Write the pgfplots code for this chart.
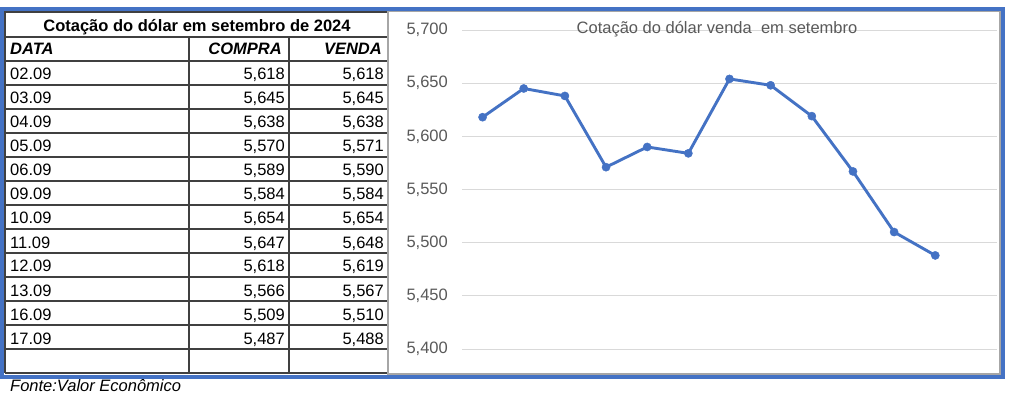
\documentclass[border=0pt]{standalone}
\usepackage{pgfplots}
\pgfplotsset{compat=1.18}
\usepackage{pgfplotstable}
\usepackage{fontspec}
\setmainfont{Liberation Sans}
\definecolor{xblue}{HTML}{4472C4}
\definecolor{xgray}{HTML}{595959}
\definecolor{xgrid}{HTML}{D9D9D9}
\definecolor{xborder}{HTML}{A6A6A6}
\definecolor{tline}{HTML}{404040}

\pgfplotstableread{
data compra venda
02.09 5.618 5.618
03.09 5.645 5.645
04.09 5.638 5.638
05.09 5.570 5.571
06.09 5.589 5.590
09.09 5.584 5.584
10.09 5.654 5.654
11.09 5.647 5.648
12.09 5.618 5.619
13.09 5.566 5.567
16.09 5.509 5.510
17.09 5.487 5.488
}\dolar

\newcommand{\fmt}[1]{\pgfmathprintnumber[fixed,fixed zerofill,precision=3,use comma,assume math mode=true]{#1}}

\begin{document}
\begin{tikzpicture}[font=\fontsize{16.5}{19.8}\selectfont]
\useasboundingbox (0,0) rectangle (1013pt,397pt);
\begin{scope}[x=1pt,y=-1pt,shift={(0pt,397pt)},every node/.style={inner sep=0pt}]
  % chart area
  \fill[white] (388,11) rectangle (1000,374);
  \draw[xborder, line width=2pt] (388,11) rectangle (1000,374);
  % table grid
  \foreach \y in {37,61,...,349} \draw[tline,line width=1.4pt] (5,\y) -- (387,\y);
  \draw[tline, line width=1.4pt] (5,373) -- (387,373);
  \draw[tline, line width=2pt] (5,12) -- (387,12);
  \draw[tline, line width=2pt] (5,11) -- (5,373);
  \foreach \x in {189,289} \draw[tline,line width=1.4pt] (\x,37) -- (\x,373);
  % table texts
  \node[anchor=base, font=\fontsize{16.5}{19.8}\selectfont\bfseries] at (197,31.5) {Cotação do dólar em setembro de 2024};
  \node[anchor=base west, font=\fontsize{16.5}{19.8}\selectfont\bfseries\itshape] at (10,55) {DATA};
  \node[anchor=base east, font=\fontsize{16.5}{19.8}\selectfont\bfseries\itshape] at (282,55) {COMPRA};
  \node[anchor=base east, font=\fontsize{16.5}{19.8}\selectfont\bfseries\itshape] at (382,55) {VENDA};
  \foreach \i in {0,...,11} {
    \pgfplotstablegetelem{\i}{data}\of\dolar \let\vd\pgfplotsretval
    \pgfplotstablegetelem{\i}{compra}\of\dolar \let\vc\pgfplotsretval
    \pgfplotstablegetelem{\i}{venda}\of\dolar \let\vv\pgfplotsretval
    \pgfmathsetmacro{\yb}{80+24*\i}
    \node[anchor=base west] at (10,\yb) {\vd};
    \node[anchor=base east] at (285,\yb) {\fmt{\vc}};
    \node[anchor=base east] at (384,\yb) {\fmt{\vv}};
  }
\end{scope}

\begin{axis}[
  at={(462pt,48pt)}, anchor=south west,
  scale only axis, width=535pt, height=319pt,
  xmin=-0.5, xmax=12.5, ymin=5.4, ymax=5.7,
  ytick={5.4,5.45,5.5,5.55,5.6,5.65,5.7},
  xtick=\empty,
  ymajorgrids, grid style={xgrid, line width=1pt},
  axis line style={draw=none},
  major tick length=0pt,
  scaled y ticks=false,
  yticklabel style={font=\fontsize{16.5}{19.8}\selectfont, text=xgray, anchor=east, inner sep=0pt, xshift=-14pt,
    /pgf/number format/.cd, fixed, fixed zerofill, precision=3, use comma, assume math mode=true},
  clip=false,
]
\addplot[color=xblue, line width=2.9pt, line join=round, mark=*, mark size=4.1pt,
  mark options={solid, fill=xblue, draw=xblue, line width=0.4pt}]
  table[x expr=\coordindex, y=venda] {\dolar};
\end{axis}

\begin{scope}[x=1pt,y=-1pt,shift={(0pt,397pt)},every node/.style={inner sep=0pt}]
  \node[anchor=base, text=xgray] at (717,33.5) {Cotação do dólar venda\ \ em setembro};
  \draw[xblue, line width=4pt] (1.75,9) rectangle (1003,377);
  \node[anchor=base west, font=\fontsize{16.5}{19.8}\selectfont\itshape] at (10,391) {Fonte:Valor Econômico};
\end{scope}
\end{tikzpicture}
\end{document}
